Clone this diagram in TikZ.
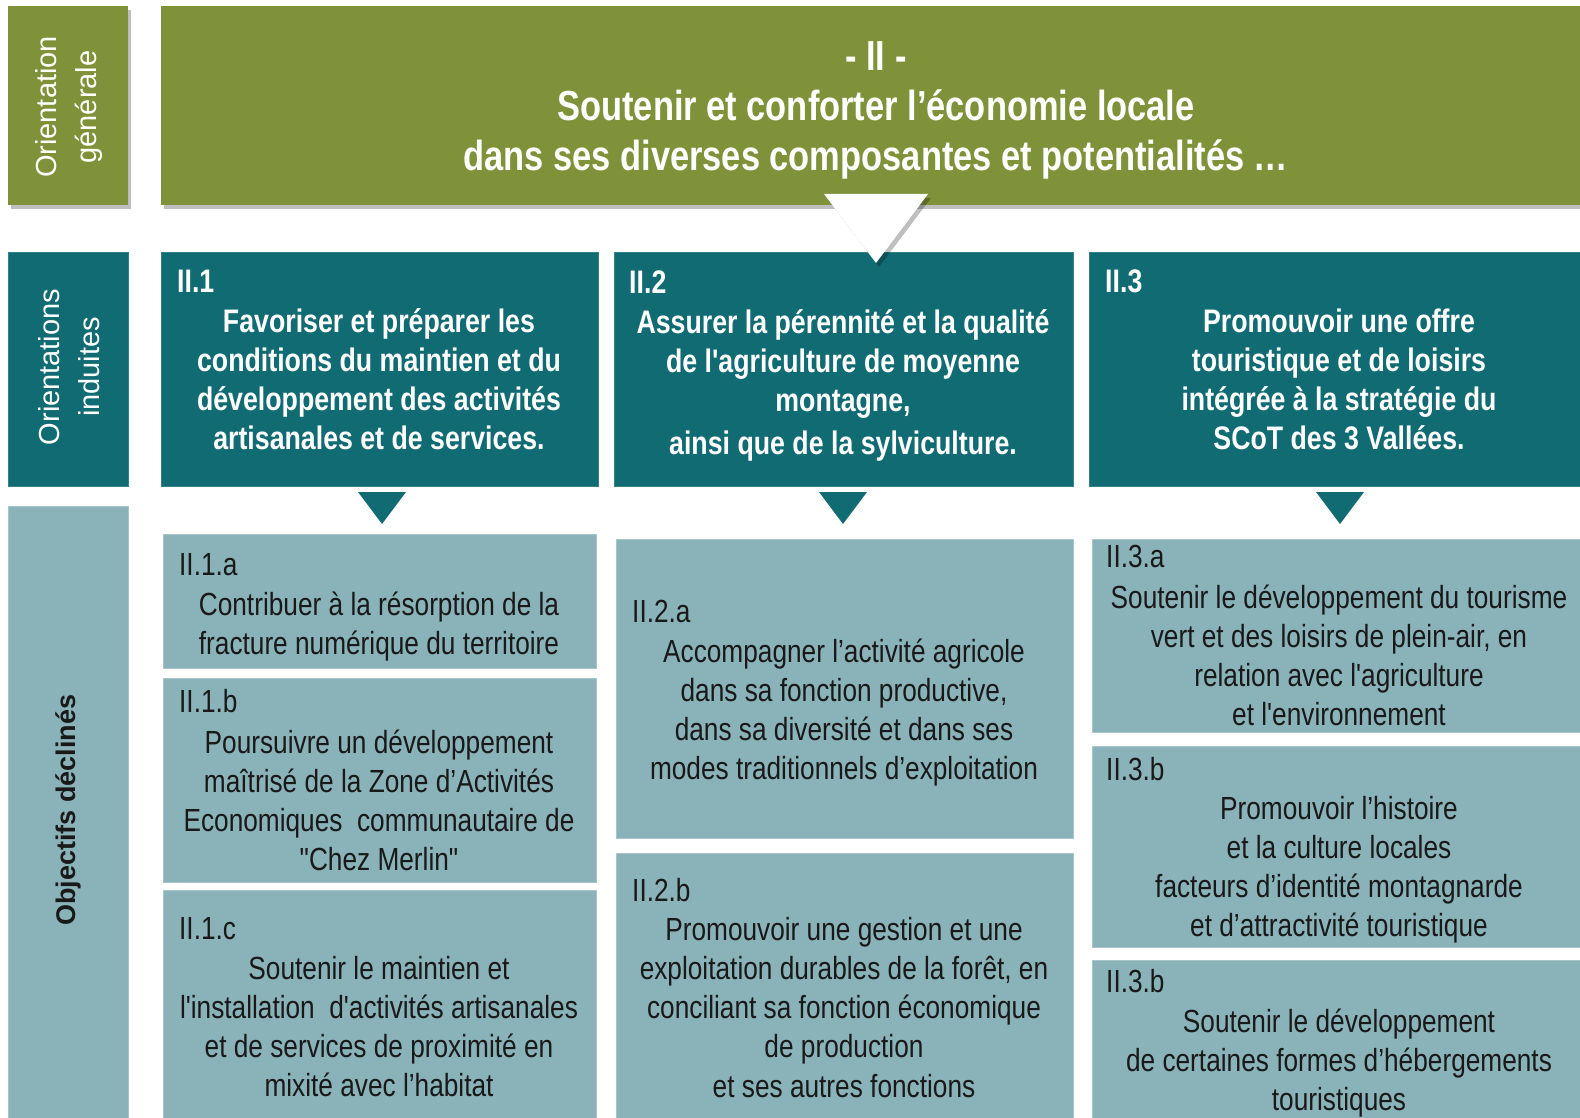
\documentclass[tikz,border=0pt]{standalone}
\usepackage{fontspec}
\setmainfont{Liberation Sans}
\newfontfamily\narrowfont[FakeStretch=0.82]{Liberation Sans}
\usetikzlibrary{shadows,fit}
\definecolor{olivebox}{HTML}{809239}
\definecolor{tealbox}{HTML}{116B73}
\definecolor{lightbox}{HTML}{89B3B9}
\definecolor{lightedge}{HTML}{A6C6CA}
\newcommand\mylines[1]{\begin{tabular}[t]{@{}c@{}}#1\end{tabular}}
\tikzset{
  box/.style={rectangle, inner sep=0pt, outer sep=0pt},
  oshadow/.style={drop shadow={shadow xshift=3pt, shadow yshift=-4pt, opacity=0.25, fill=black}},
  obox/.style={box, fill=olivebox, oshadow},
  tbox/.style={box, fill=tealbox, draw=tealbox!85!white, line width=0.6pt},
  lbox/.style={box, fill=lightbox, draw=lightedge, line width=0.8pt},
  titletext/.style={anchor=base, inner sep=0pt, text=white, font=\narrowfont\bfseries\fontsize{42}{50}\selectfont},
  tealtext/.style={anchor=base, inner sep=0pt, text=white, font=\narrowfont\bfseries\fontsize{32.6}{39.3}\selectfont},
  teallabel/.style={anchor=base west, inner sep=0pt, text=white, font=\narrowfont\bfseries\fontsize{32.6}{39.3}\selectfont},
  bodytext/.style={anchor=base, inner sep=0pt, text=black!90, font=\narrowfont\fontsize{32}{39.3}\selectfont},
  bodylabel/.style={anchor=base west, inner sep=0pt, text=black!90, font=\narrowfont\fontsize{32}{39.3}\selectfont},
  sidetext/.style={rotate=90, align=center, inner sep=0pt, font=\fontsize{29}{40}\selectfont},
  smalltri/.style={fill=tealbox},
}
\begin{document}
\begin{tikzpicture}[x=1pt, y=-1pt]
\fill[white] (0,0) rectangle (1580,1118);
\useasboundingbox (0,0) rectangle (1580,1118);

% ---- left column labels
\node[obox, fit={(8,6) (128,205)}] (og) {};
\node[tbox, fit={(8,252) (128,486)}] (oi) {};
\node[lbox, fit={(8,506) (128,1118)}] (od) {};
\node[sidetext, text=white] (ogt) at (69,107) {Orientation\\générale};
\node[sidetext, text=white] (oit) at (69,367) {Orientations\\induites};
\node[sidetext, text=black!90, font=\bfseries\fontsize{27}{40}\selectfont] (odt) at (68,810) {Objectifs déclinés};

% ---- main title box
\node[obox, fit={(161,6) (1585,205)}] (main) {};
\node[titletext] (mt) at (876,71) {\fontsize{42}{50}\selectfont\mylines{- II -\\Soutenir et conforter l’économie locale\\dans ses diverses composantes et potentialités …}};

% ---- teal row
\node[tbox, fit={(161,252) (598,486)}] (t1) {};
\node[tbox, fit={(614,252) (1073,486)}] (t2) {};
\node[tbox, fit={(1089,252) (1585,486)}] (t3) {};

\node[teallabel] (t1l) at (177,292) {II.1};
\node[tealtext] (t1t) at (379,332) {\mylines{Favoriser et préparer les\\conditions du maintien et du\\développement des activités\\artisanales et de services.}};
\node[teallabel] (t2l) at (629,293) {II.2};
\node[tealtext] (t2t) at (843,333) {\mylines{Assurer la pérennité et la qualité\\de l'agriculture de moyenne\\montagne,\\[4pt]ainsi que de la sylviculture.}};
\node[teallabel] (t3l) at (1105,292) {II.3};
\node[tealtext] (t3t) at (1339,332) {\mylines{Promouvoir une offre\\touristique et de loisirs\\intégrée à la stratégie du\\SCoT des 3 Vallées.}};

% ---- big white triangle
\fill[white, oshadow] (824,194) -- (928,194) -- (876,263) -- cycle;

% ---- small teal triangles
\fill[smalltri] (358,492) -- (406,492) -- (382,524) -- cycle;
\fill[smalltri] (819,492) -- (867,492) -- (843,524) -- cycle;
\fill[smalltri] (1316,492) -- (1364,492) -- (1340,524) -- cycle;

% ---- objective boxes column 1
\node[lbox, fit={(163,534) (596,668)}] (a1) {};
\node[lbox, fit={(163,678) (596,882)}] (b1) {};
\node[lbox, fit={(163,890) (596,1125)}] (c1) {};
\node[bodylabel] (a1l) at (179,575) {II.1.a};
\node[bodytext] (a1t) at (379,615) {\mylines{Contribuer à la résorption de la\\fracture numérique du territoire}};
\node[bodylabel] (b1l) at (179,712) {II.1.b};
\node[bodytext] (b1t) at (379,753) {\mylines{Poursuivre un développement\\maîtrisé de la Zone d’Activités\\Economiques\ \ communautaire de\\"Chez Merlin"}};
\node[bodylabel] (c1l) at (179,939) {II.1.c};
\node[bodytext] (c1t) at (379,979) {\mylines{Soutenir le maintien et\\l'installation\ \ d'activités artisanales\\et de services de proximité en\\mixité avec l’habitat}};

% ---- objective boxes column 2
\node[lbox, fit={(616,539) (1073,838)}] (a2) {};
\node[lbox, fit={(616,853) (1073,1125)}] (b2) {};
\node[bodylabel] (a2l) at (632,622) {II.2.a};
\node[bodytext] (a2t) at (844,662) {\mylines{Accompagner l’activité\ agricole\\dans sa fonction productive,\\dans sa diversité et dans ses\\modes traditionnels d’exploitation}};
\node[bodylabel] (b2l) at (632,901) {II.2.b};
\node[bodytext] (b2t) at (844,940) {\mylines{Promouvoir une gestion et une\\exploitation\ durables de la forêt, en\\conciliant sa fonction économique\\de production\\et ses autres fonctions}};

% ---- objective boxes column 3
\node[lbox, fit={(1092,539) (1585,732)}] (a3) {};
\node[lbox, fit={(1092,746) (1585,947)}] (b3) {};
\node[lbox, fit={(1092,960) (1585,1125)}] (c3) {};
\node[bodylabel] (a3l) at (1106,567) {II.3.a};
\node[bodytext] (a3t) at (1339,608) {\mylines{Soutenir le développement\ du tourisme\\vert et des loisirs de plein-air, en\\relation avec l'agriculture\\et l'environnement}};
\node[bodylabel] (b3l) at (1106,780) {II.3.b};
\node[bodytext] (b3t) at (1339,819) {\mylines{Promouvoir l’histoire\\et la culture locales\\facteurs d’identité montagnarde\\et d’attractivité touristique}};
\node[bodylabel] (c3l) at (1106,992) {II.3.b};
\node[bodytext] (c3t) at (1339,1032) {\mylines{Soutenir le développement\\de certaines formes d’hébergements\\touristiques}};
\end{tikzpicture}
\end{document}
